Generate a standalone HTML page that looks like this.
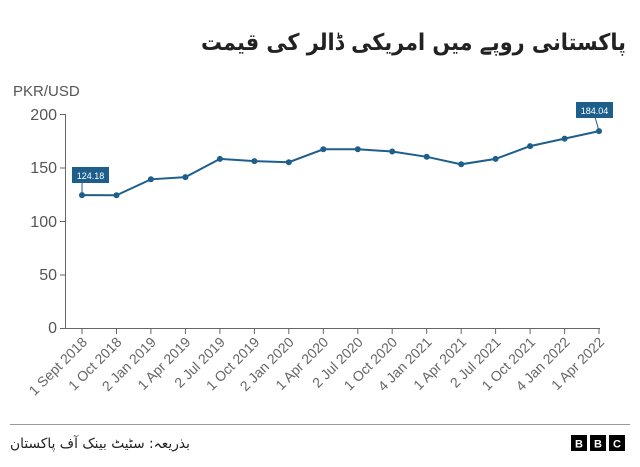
<!DOCTYPE html>
<html><head><meta charset="utf-8"><style>
body{margin:0;width:640px;height:462px;background:#fff;overflow:hidden;font-family:"Liberation Sans","DejaVu Sans",sans-serif}
</style></head><body>
<svg width="640" height="462" xmlns="http://www.w3.org/2000/svg">
<text x="626" y="50" text-anchor="start" font-family="DejaVu Sans,sans-serif" font-weight="bold" font-size="23" fill="#222" direction="rtl" textLength="425" lengthAdjust="spacingAndGlyphs">پاکستانی روپے میں امریکی ڈالر کی قیمت</text>
<text x="13" y="96" font-size="15" fill="#555">PKR/USD</text>
<g stroke="#666" stroke-width="1">
<line x1="65.5" y1="114" x2="65.5" y2="328"/>
<line x1="65" y1="328.5" x2="600" y2="328.5"/>
<line x1="60" y1="114.5" x2="65" y2="114.5"/><line x1="60" y1="168" x2="65" y2="168"/><line x1="60" y1="221.5" x2="65" y2="221.5"/><line x1="60" y1="275" x2="65" y2="275"/><line x1="60" y1="328.5" x2="65" y2="328.5"/>
</g>
<g font-size="16" fill="#555" text-anchor="end">
<text x="57" y="120">200</text><text x="57" y="173">150</text><text x="57" y="227">100</text><text x="57" y="280">50</text><text x="57" y="333">0</text>
</g>
<g stroke="#666">
<line x1="82" y1="328" x2="82" y2="334"/><line x1="116.5" y1="328" x2="116.5" y2="334"/><line x1="150.9" y1="328" x2="150.9" y2="334"/><line x1="185.4" y1="328" x2="185.4" y2="334"/><line x1="219.9" y1="328" x2="219.9" y2="334"/><line x1="254.4" y1="328" x2="254.4" y2="334"/><line x1="288.8" y1="328" x2="288.8" y2="334"/><line x1="323.3" y1="328" x2="323.3" y2="334"/><line x1="357.8" y1="328" x2="357.8" y2="334"/><line x1="392.2" y1="328" x2="392.2" y2="334"/><line x1="426.7" y1="328" x2="426.7" y2="334"/><line x1="461.2" y1="328" x2="461.2" y2="334"/><line x1="495.6" y1="328" x2="495.6" y2="334"/><line x1="530.1" y1="328" x2="530.1" y2="334"/><line x1="564.6" y1="328" x2="564.6" y2="334"/><line x1="599" y1="328" x2="599" y2="334"/>
</g>
<g font-size="14" fill="#666" text-anchor="end">
<text transform="translate(88,343) rotate(-45)">1 Sept 2018</text>
<text transform="translate(122.5,343) rotate(-45)">1 Oct 2018</text>
<text transform="translate(156.9,343) rotate(-45)">2 Jan 2019</text>
<text transform="translate(191.4,343) rotate(-45)">1 Apr 2019</text>
<text transform="translate(225.9,343) rotate(-45)">2 Jul 2019</text>
<text transform="translate(260.4,343) rotate(-45)">1 Oct 2019</text>
<text transform="translate(294.8,343) rotate(-45)">2 Jan 2020</text>
<text transform="translate(329.3,343) rotate(-45)">1 Apr 2020</text>
<text transform="translate(363.8,343) rotate(-45)">2 Jul 2020</text>
<text transform="translate(398.2,343) rotate(-45)">1 Oct 2020</text>
<text transform="translate(432.7,343) rotate(-45)">4 Jan 2021</text>
<text transform="translate(467.2,343) rotate(-45)">1 Apr 2021</text>
<text transform="translate(501.6,343) rotate(-45)">2 Jul 2021</text>
<text transform="translate(536.1,343) rotate(-45)">1 Oct 2021</text>
<text transform="translate(570.6,343) rotate(-45)">4 Jan 2022</text>
<text transform="translate(605,343) rotate(-45)">1 Apr 2022</text>
</g>
<polyline fill="none" stroke="#1d5f8a" stroke-width="2" points="82,195.1 116.5,195.3 150.9,179.3 185.4,177.1 219.9,158.9 254.4,161.1 288.8,162.2 323.3,149.3 357.8,149.3 392.2,151.5 426.7,156.8 461.2,164.3 495.6,158.9 530.1,146.1 564.6,138.6 599,131.1"/>
<g fill="#1d5f8a">
<circle cx="82" cy="195.1" r="3"/><circle cx="116.5" cy="195.3" r="3"/><circle cx="150.9" cy="179.3" r="3"/><circle cx="185.4" cy="177.1" r="3"/><circle cx="219.9" cy="158.9" r="3"/><circle cx="254.4" cy="161.1" r="3"/><circle cx="288.8" cy="162.2" r="3"/><circle cx="323.3" cy="149.3" r="3"/><circle cx="357.8" cy="149.3" r="3"/><circle cx="392.2" cy="151.5" r="3"/><circle cx="426.7" cy="156.8" r="3"/><circle cx="461.2" cy="164.3" r="3"/><circle cx="495.6" cy="158.9" r="3"/><circle cx="530.1" cy="146.1" r="3"/><circle cx="564.6" cy="138.6" r="3"/><circle cx="599" cy="131.1" r="3"/>
</g>
<line x1="82" y1="183" x2="82" y2="195" stroke="#1d5f8a"/>
<rect x="72" y="167" width="37" height="16" fill="#1d5f8a"/>
<text x="90.5" y="179" font-size="9" fill="#fff" text-anchor="middle">124.18</text>
<line x1="595" y1="117" x2="599" y2="131" stroke="#1d5f8a"/>
<rect x="576" y="102" width="37" height="16" fill="#1d5f8a"/>
<text x="594.5" y="114" font-size="9" fill="#fff" text-anchor="middle">184.04</text>
<line x1="10" y1="424.5" x2="630" y2="424.5" stroke="#999"/>
<text x="190" y="448" text-anchor="start" font-family="DejaVu Sans,sans-serif" font-size="14" fill="#222" direction="rtl" textLength="180" lengthAdjust="spacingAndGlyphs">بذریعہ: سٹیٹ بینک آف پاکستان</text>
<g font-size="11" font-weight="bold" fill="#fff" text-anchor="middle">
<rect x="571" y="435" width="16" height="16" fill="#000"/><text x="579" y="447.5">B</text>
<rect x="590" y="435" width="16" height="16" fill="#000"/><text x="598" y="447.5">B</text>
<rect x="609" y="435" width="16" height="16" fill="#000"/><text x="617" y="447.5">C</text>
</g>
</svg>
</body></html>
